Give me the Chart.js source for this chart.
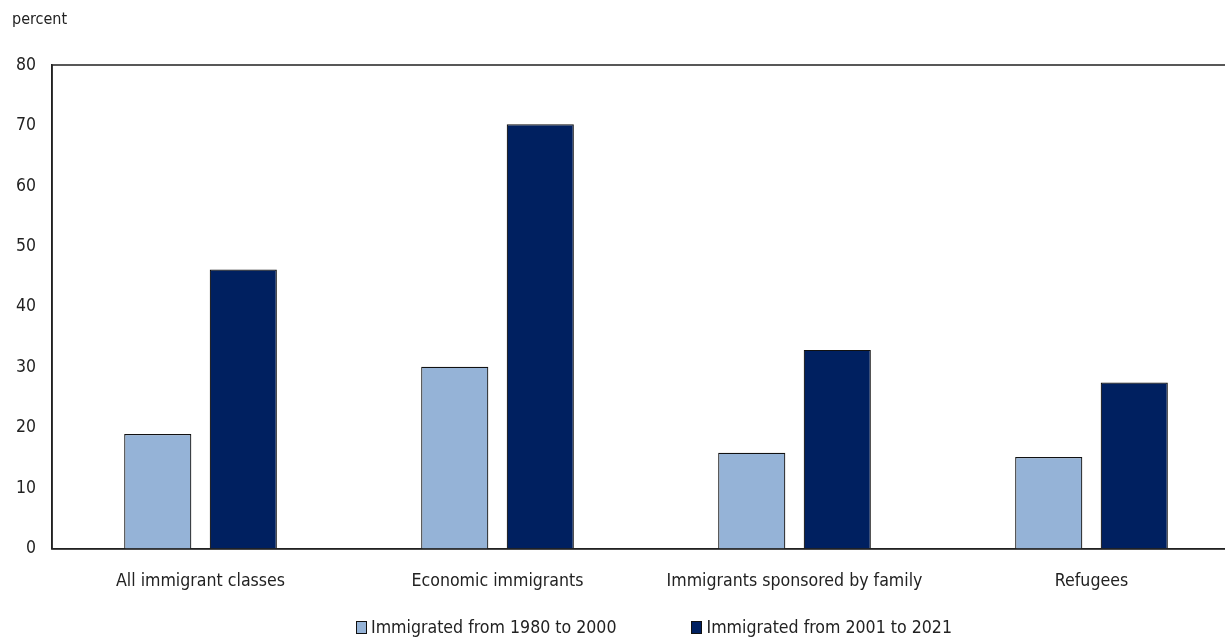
<!DOCTYPE html>
<html lang="en">
<head>
<meta charset="UTF-8">
<title>Immigrant classes</title>
<style>
    html, body { margin: 0; padding: 0; background: #fff; overflow: hidden; }
    .wrap { width: 1240px; height: 640px; position: relative; }
    .unit { position: absolute; top: 9px; left: 12px; font: 16px 'DejaVu Sans Condensed', 'DejaVu Sans', sans-serif; color: #222; }
    .legend { position: absolute; top: 617px; left: 356px; font: 17.6px 'DejaVu Sans Condensed', 'DejaVu Sans', sans-serif; color: #222; white-space: nowrap; }
    .legend span { display: inline-flex; align-items: center; }
    .legend span + span { margin-left: 75px; }
    .legend i { display: inline-block; width: 9px; height: 11px; border: 1px solid #111; margin-right: 4px; }
</style>
</head>
<body>
<div class="wrap">
    <canvas id="chart"></canvas>
    <div class="unit">percent</div>
    <div class="legend" id="legend"></div>
</div>
<script src="https://cdn.jsdelivr.net/npm/chart.js"></script>
<script>
    const categories = ['All immigrant classes', 'Economic immigrants', 'Immigrants sponsored by family', 'Refugees'];
    const seriesNames = ['Immigrated from 1980 to 2000', 'Immigrated from 2001 to 2021'];
    const early = [19.0, 30.1, 15.9, 15.2];
    const recent = [46.2, 70.2, 32.9, 27.5];
    const yTicks = [0, 10, 20, 30, 40, 50, 60, 70, 80];
    const colors = ['#95b3d7', '#002060'];

    const font = "'DejaVu Sans Condensed', 'DejaVu Sans', sans-serif";

    // frame around the plot area, like the original
    const frame = {
        id: 'frame',
        afterDraw(chart) {
            const a = chart.chartArea, c = chart.ctx;
            c.save();
            c.strokeStyle = '#222';
            c.lineWidth = 1.5;
            c.strokeRect(a.left, a.top, a.right - a.left, a.bottom - a.top);
            c.restore();
        }
    };

    const chart = new Chart(document.getElementById('chart'), {
        type: 'bar',
        data: {
            labels: categories,
            datasets: [
                { label: seriesNames[0], data: early, backgroundColor: colors[0], borderColor: '#111', borderWidth: 1.2 },
                { label: seriesNames[1], data: recent, backgroundColor: colors[1], borderColor: '#111', borderWidth: 1.2 }
            ]
        },
        options: {
            responsive: true,
            maintainAspectRatio: false,
            animation: false,
            categoryPercentage: 0.576,
            barPercentage: 0.785,
            layout: { padding: { left: 0, right: 0, top: 65, bottom: 26 } },
            plugins: {
                legend: { display: false },
                tooltip: { enabled: false }
            },
            scales: {
                x: {
                    grid: { display: false, drawTicks: false },
                    border: { color: '#222', width: 1.5 },
                    ticks: { color: '#222', font: { family: font, size: 17.6 }, padding: 22 }
                },
                y: {
                    min: 0,
                    max: 80,
                    afterBuildTicks(scale) { scale.ticks = yTicks.map(v => ({ value: v })); },
                    grid: { display: false, drawTicks: false },
                    border: { color: '#222', width: 1.5 },
                    ticks: { color: '#222', font: { family: font, size: 17.5 }, padding: 16 }
                }
            }
        },
        plugins: [frame]
    });

    // HTML legend built from the dataset names and colours
    document.getElementById('legend').innerHTML = seriesNames
        .map((n, i) => `<span><i style="background:${colors[i]}"></i>${n}</span>`).join('');
</script>
</body>
</html>
